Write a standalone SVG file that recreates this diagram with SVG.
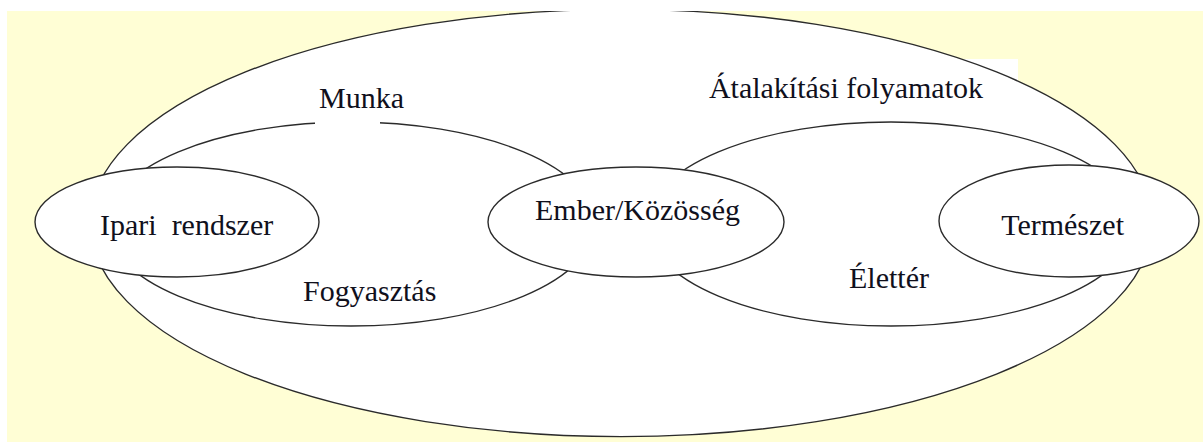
<svg xmlns="http://www.w3.org/2000/svg" width="1203" height="442" viewBox="0 0 1203 442">
  <style>
    .ell { fill: #ffffff; stroke: #2b2b2b; stroke-width: 1.4; }
    .lbl { font-family: "Liberation Serif", "Times New Roman", serif; font-size: 30px; fill: #10101c; }
  </style>
  <rect id="background" x="7" y="11" width="1196" height="431" fill="#fffed5"/>
  <rect id="label-box-atalakitasi" x="690" y="59" width="328" height="60" fill="#ffffff"/>
  <g id="outer-system">
    <ellipse class="ell" cx="621" cy="223" rx="531" ry="213.6"/>
  </g>
  <g id="munka-ring">
    <ellipse class="ell" cx="351" cy="224" rx="244" ry="102"/>
  </g>
  <g id="atalakitasi-ring">
    <ellipse class="ell" cx="891" cy="224" rx="244" ry="102"/>
  </g>
  <g id="node-ipari">
    <ellipse class="ell" cx="177" cy="222" rx="142" ry="55"/>
    <text class="lbl" x="100" y="235" xml:space="preserve">Ipari  rendszer</text>
  </g>
  <g id="node-ember">
    <ellipse class="ell" cx="636" cy="222" rx="148" ry="55"/>
    <text class="lbl" x="535" y="220">Ember/Közösség</text>
  </g>
  <g id="node-termeszet">
    <ellipse class="ell" cx="1069" cy="221" rx="130" ry="56"/>
    <text class="lbl" x="1124" y="235" text-anchor="end">Természet</text>
  </g>
  <rect x="0" y="0" width="1203" height="11" fill="#ffffff"/>
  <rect x="0" y="0" width="7" height="442" fill="#ffffff"/>
  <g id="label-munka">
    <rect x="315" y="86" width="65" height="38.5" fill="#ffffff"/>
    <text class="lbl" x="319" y="108">Munka</text>
  </g>
  <g id="label-atalakitasi">
    <text class="lbl" x="983" y="98" text-anchor="end">Átalakítási folyamatok</text>
  </g>
  <g id="label-fogyasztas">
    <text class="lbl" x="303" y="301">Fogyasztás</text>
  </g>
  <g id="label-elletter">
    <text class="lbl" x="849" y="288">Élettér</text>
  </g>
</svg>
